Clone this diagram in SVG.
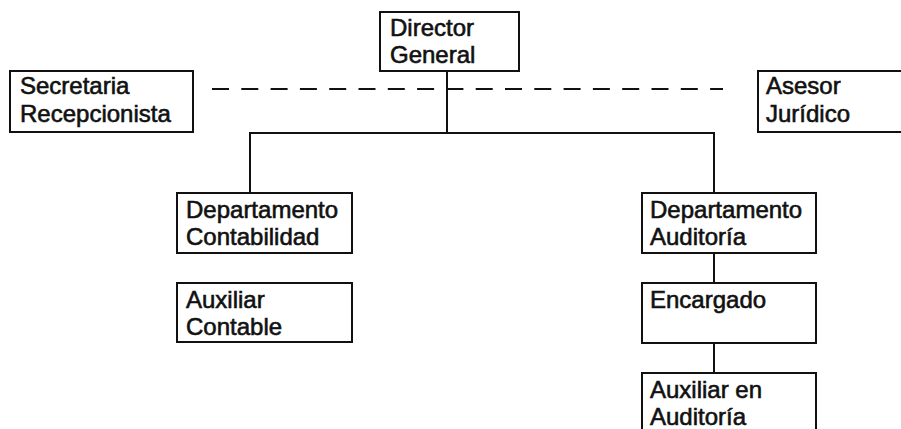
<svg xmlns="http://www.w3.org/2000/svg" width="901" height="429" viewBox="0 0 901 429">
  <style>
    .box { fill: #fff; stroke: #111; stroke-width: 2; }
    .lbl { font-family: "Liberation Sans", Arial, sans-serif; font-size: 24px; fill: #111; stroke: #111; stroke-width: 0.6; }
    .conn { stroke: #111; stroke-width: 2; fill: none; }
    .dash { stroke: #111; stroke-width: 2; fill: none; stroke-dasharray: 17 12.3; }
  </style>
  <rect width="901" height="429" fill="#fff"/>
  <g id="connectors">
    <line class="dash" x1="212" y1="89" x2="723" y2="89"/>
    <line class="conn" x1="447" y1="71" x2="447" y2="133"/>
    <line class="conn" x1="249" y1="133" x2="715" y2="133"/>
    <line class="conn" x1="250" y1="133" x2="250" y2="193"/>
    <line class="conn" x1="714" y1="133" x2="714" y2="193"/>
    <line class="conn" x1="714" y1="253" x2="714" y2="283"/>
    <line class="conn" x1="714" y1="343" x2="714" y2="373"/>
  </g>
  <g id="director-general">
    <rect class="box" x="380" y="12" width="139" height="59"/>
    <text class="lbl" x="390" y="36">Director</text>
    <text class="lbl" x="390" y="63">General</text>
  </g>
  <g id="secretaria-recepcionista">
    <rect class="box" x="10" y="71" width="183" height="61"/>
    <text class="lbl" x="20" y="94">Secretaria</text>
    <text class="lbl" x="20" y="122">Recepcionista</text>
  </g>
  <g id="asesor-juridico">
    <rect class="box" x="758" y="71" width="150" height="61"/>
    <text class="lbl" x="766" y="94">Asesor</text>
    <text class="lbl" x="766" y="122">Jurídico</text>
  </g>
  <g id="depto-contabilidad">
    <rect class="box" x="177" y="193" width="175" height="60"/>
    <text class="lbl" x="186" y="218">Departamento</text>
    <text class="lbl" x="186" y="245">Contabilidad</text>
  </g>
  <g id="auxiliar-contable">
    <rect class="box" x="177" y="283" width="175" height="59"/>
    <text class="lbl" x="186" y="308">Auxiliar</text>
    <text class="lbl" x="186" y="335">Contable</text>
  </g>
  <g id="depto-auditoria">
    <rect class="box" x="642" y="193" width="174" height="60"/>
    <text class="lbl" x="650" y="218">Departamento</text>
    <text class="lbl" x="650" y="245">Auditoría</text>
  </g>
  <g id="encargado">
    <rect class="box" x="642" y="283" width="174" height="60"/>
    <text class="lbl" x="650" y="308">Encargado</text>
  </g>
  <g id="auxiliar-auditoria">
    <rect class="box" x="642" y="373" width="174" height="62"/>
    <text class="lbl" x="650" y="398">Auxiliar en</text>
    <text class="lbl" x="650" y="425">Auditoría</text>
  </g>
</svg>
